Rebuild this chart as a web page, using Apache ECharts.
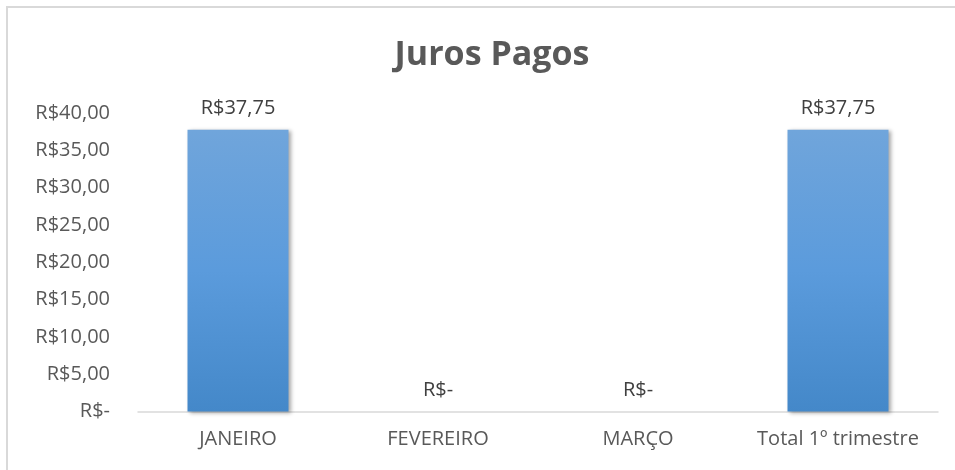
<!DOCTYPE html>
<html>
<head>
<meta charset="utf-8">
<style>
  html, body { margin: 0; padding: 0; background: #fff; }
  #frame { position: absolute; left: 6px; top: 6px; width: 1000px; height: 1000px;
           border-left: 2px solid #d9d9d9; border-top: 2px solid #d9d9d9; box-sizing: border-box; }
  #chart { position: absolute; left: 0; top: 0; width: 955px; height: 470px; }
</style>
<script src="https://cdn.jsdelivr.net/npm/echarts@6/dist/echarts.min.js"></script>
</head>
<body>
<div id="frame"></div>
<div id="chart"></div>
<script>
const categories = ['JANEIRO', 'FEVEREIRO', 'MARÇO', 'Total 1º trimestre'];
const juros = [37.75, 0, 0, 37.75];
const yTicks = [0, 5, 10, 15, 20, 25, 30, 35, 40];

const FONT = '"Open Sans", "Noto Sans", sans-serif';

function brl(v) {
  if (v === 0) return 'R$-';
  return 'R$' + v.toFixed(2).replace('.', ',');
}

const chart = echarts.init(document.getElementById('chart'), null, { renderer: 'canvas' });
chart.setOption({
  animation: false,
  backgroundColor: 'transparent',
  title: {
    text: 'Juros Pagos',
    left: 487,
    top: 33,
    textAlign: 'center',
    textStyle: { fontFamily: FONT, fontSize: 34, fontWeight: 'bold', color: '#595959' }
  },
  grid: { left: 138, right: 17, top: 113, bottom: 58.5, containLabel: false },
  xAxis: {
    type: 'category',
    data: categories,
    axisLine: { lineStyle: { color: '#d9d9d9', width: 1.5 } },
    axisTick: { show: false },
    axisLabel: { interval: 0, fontFamily: FONT, fontSize: 20, color: '#595959', margin: 18 }
  },
  yAxis: {
    type: 'value',
    min: yTicks[0],
    max: yTicks[yTicks.length - 1],
    interval: yTicks[1] - yTicks[0],
    splitLine: { show: false },
    axisLine: { show: false },
    axisTick: { show: false },
    axisLabel: {
      fontFamily: FONT, fontSize: 20, color: '#595959', margin: 28,
      formatter: brl
    }
  },
  series: [{
    type: 'bar',
    data: juros,
    barWidth: '50.5%',
    itemStyle: {
      color: new echarts.graphic.LinearGradient(0, 0, 0, 1, [
        { offset: 0, color: '#70a5db' },
        { offset: 0.5, color: '#5b9bdc' },
        { offset: 1, color: '#4488c9' }
      ]),
      shadowColor: 'rgba(0,0,0,0.35)',
      shadowBlur: 4,
      shadowOffsetX: 2,
      shadowOffsetY: 1
    },
    label: {
      show: true,
      position: 'top',
      distance: 11,
      fontFamily: FONT,
      fontSize: 20,
      color: '#404040',
      formatter: p => brl(p.value)
    }
  }]
});
</script>
</body>
</html>
